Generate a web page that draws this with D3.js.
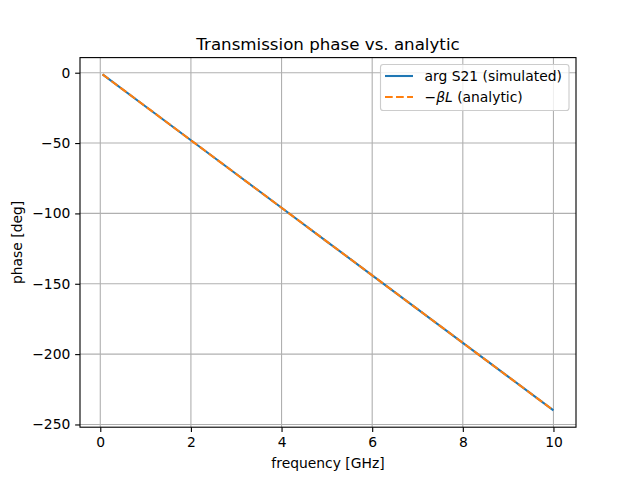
<!DOCTYPE html>
<html><head><meta charset="utf-8">
<script src="https://cdn.jsdelivr.net/npm/d3@7"></script>
<style>body{margin:0;background:#fff}svg{font-family:"DejaVu Sans",sans-serif}</style>
</head><body>
<script>
const freqs = [0.05, 1, 2, 3, 4, 5, 6, 7, 8, 9, 10];
const simulated = [-1.2, -24, -48, -72, -96, -120, -144, -168, -192, -216, -240];
const analytic = [-1.2, -24, -48, -72, -96, -120, -144, -168, -192, -216, -240];
const xTicks = [0, 2, 4, 6, 8, 10];
const yTicks = [0, -50, -100, -150, -200, -250];

const W = 640, H = 480, L = 80, R = 576, T = 57.6, B = 427.2;
const FS = "13.89px";
const svg = d3.select("body").append("svg").attr("width", W).attr("height", H);
const x = d3.scaleLinear().domain([-0.4475, 10.4975]).range([L, R]);
const y = d3.scaleLinear().domain([-251.94, 10.74]).range([B, T]);

// grid
svg.append("g").selectAll("line").data(xTicks).join("line")
  .attr("x1", d => x(d)).attr("x2", d => x(d)).attr("y1", T).attr("y2", B)
  .attr("stroke", "#b0b0b0").attr("stroke-width", 1.11);
svg.append("g").selectAll("line").data(yTicks).join("line")
  .attr("y1", d => y(d)).attr("y2", d => y(d)).attr("x1", L).attr("x2", R)
  .attr("stroke", "#b0b0b0").attr("stroke-width", 1.11);

const line = d3.line().x(d => x(d[0])).y(d => y(d[1]));
svg.append("path").datum(freqs.map((f, i) => [f, simulated[i]]))
  .attr("d", line).attr("fill", "none").attr("stroke", "#1f77b4").attr("stroke-width", 2.08);
svg.append("path").datum(freqs.map((f, i) => [f, analytic[i]]))
  .attr("d", line).attr("fill", "none").attr("stroke", "#ff7f0e").attr("stroke-width", 2.08)
  .attr("stroke-dasharray", "7.7,3.33");

// axes
const xa = svg.append("g").attr("transform", `translate(0,${B})`)
  .call(d3.axisBottom(x).tickValues(xTicks).tickSize(4.86).tickPadding(4.86).tickFormat(d3.format("d")));
const ya = svg.append("g").attr("transform", `translate(${L},0)`)
  .call(d3.axisLeft(y).tickValues(yTicks).tickSize(4.86).tickPadding(4.86).tickFormat(d => d < 0 ? "\u2212" + Math.abs(d) : d));
[xa, ya].forEach(a => {
  a.select(".domain").remove();
  a.selectAll("text").attr("font-size", FS).attr("fill", "#000").attr("font-family", "DejaVu Sans");
  a.selectAll("line").attr("stroke", "#000").attr("stroke-width", 1.11);
});
svg.append("rect").attr("x", L).attr("y", T).attr("width", R - L).attr("height", B - T)
  .attr("fill", "none").attr("stroke", "#000").attr("stroke-width", 1.11);

svg.append("text").attr("x", (L + R) / 2).attr("y", 49.5).attr("text-anchor", "middle")
  .attr("font-size", "16.67px").text("Transmission phase vs. analytic");
svg.append("text").attr("x", (L + R) / 2).attr("y", 468).attr("text-anchor", "middle")
  .attr("font-size", FS).text("frequency [GHz]");
svg.append("text").attr("transform", `translate(22,${(T + B) / 2}) rotate(-90)`).attr("text-anchor", "middle")
  .attr("font-size", FS).text("phase [deg]");

// legend
const lg = svg.append("g");
lg.append("rect").attr("x", 380.5).attr("y", 64.5).attr("width", 188.5).attr("height", 46)
  .attr("rx", 2.8).attr("fill", "#fff").attr("fill-opacity", 0.8).attr("stroke", "#ccc").attr("stroke-width", 1.11);
lg.append("line").attr("x1", 385).attr("x2", 413).attr("y1", 76).attr("y2", 76)
  .attr("stroke", "#1f77b4").attr("stroke-width", 2.08);
lg.append("line").attr("x1", 385).attr("x2", 413).attr("y1", 97).attr("y2", 97)
  .attr("stroke", "#ff7f0e").attr("stroke-width", 2.08).attr("stroke-dasharray", "7.7,3.33");
lg.append("text").attr("x", 424.5).attr("y", 81).attr("font-size", FS).text("arg S21 (simulated)");
const t2 = lg.append("text").attr("x", 424.5).attr("y", 102).attr("font-size", FS);
t2.append("tspan").text("\u2212");
t2.append("tspan").attr("font-style", "italic").text("\u03b2L");
t2.append("tspan").text(" (analytic)");
</script>
</body></html>
